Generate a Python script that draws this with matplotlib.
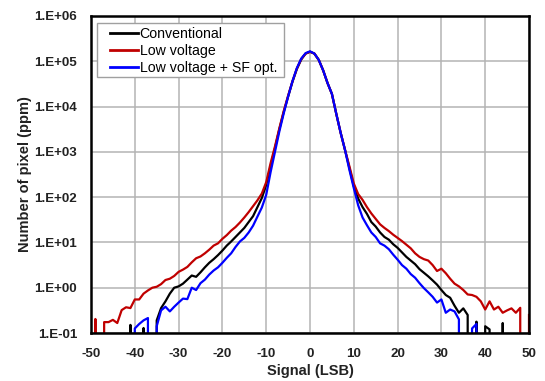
import numpy as np
import matplotlib
matplotlib.use("Agg")
import matplotlib.pyplot as plt
from matplotlib.ticker import FixedLocator, NullLocator
from matplotlib.patches import Rectangle

signal = list(range(-50, 51))

conventional = (
    [0] * 9 +
    [0.151, 0, 0, 0.129, 0, 0, 0.19, 0.355, 0.50, 0.74,
     1.0, 1.07, 1.23, 1.51, 1.86, 1.74, 2.19, 2.82, 3.55, 4.27,
     5.25, 6.61, 8.51, 10.5, 13.2, 16.6, 20.9, 28.2, 38.0, 60.3,
     95.5, 186, 479, 1202, 3162, 7586, 16600, 35480, 67600, 109600,
     147900, 162200, 147900, 107200, 63100, 33110, 19050, 6918, 2630, 1096,
     437, 174, 93.3, 60.3, 42.7, 28.2, 22.4, 16.6, 13.2, 11.5,
     9.12, 7.59, 6.03, 4.79, 3.98, 3.31, 2.57, 2.14, 1.78, 1.45,
     1.17, 0.89, 0.69, 0.60, 0.40, 0.28, 0.35, 0.25, 0, 0.178,
     0, 0.141, 0.12, 0, 0, 0.166] +
    [0] * 6
)

low_voltage = [
    0, 0.204, 0, 0.174, 0.174, 0.195, 0.166, 0.32, 0.37, 0.355,
    0.55, 0.55, 0.74, 0.87, 1.0, 1.05, 1.2, 1.48, 1.58, 1.82,
    2.24, 2.51, 2.88, 3.63, 4.47, 4.9, 5.75, 6.92, 8.51, 9.55,
    12.0, 14.5, 18.2, 21.9, 27.5, 35.5, 46.8, 63.1, 85.1, 120,
    214, 562, 1318, 3311, 7943, 17380, 36310, 69180, 112200, 147900,
    162200, 147900, 107200, 63100, 33110, 19050, 6918, 2630, 1096, 479,
    200, 117, 87, 60.3, 43.7, 33.1, 25.1, 20.9, 17.8, 14.8,
    12.6, 10.7, 8.91, 7.41, 5.75, 4.79, 4.27, 3.98, 3.16, 2.34,
    2.63, 2.09, 1.58, 1.23, 1.07, 0.89, 0.71, 0.69, 0.63, 0.50,
    0.33, 0.50, 0.33, 0.38, 0.28, 0.316, 0.35, 0.28, 0.36, 0,
    0.25,
]

low_voltage_sf = (
    [0] * 10 +
    [0.126, 0.158, 0.19, 0.214, 0, 0.141, 0.316, 0.38, 0.30, 0.38,
     0.47, 0.575, 0.56, 1.0, 0.89, 1.26, 1.51, 1.95, 2.4, 2.82,
     3.55, 4.57, 5.75, 7.94, 10.5, 12.6, 16.6, 23.4, 37.2, 58.9,
     112, 355, 1000, 2818, 7079, 16600, 36310, 70800, 114800, 151400,
     166000, 147900, 107200, 63100, 33110, 19050, 6918, 2630, 1096, 398,
     158, 66, 35.5, 24.0, 16.6, 13.2, 9.55, 8.5, 7.08, 5.37,
     4.17, 3.16, 2.63, 2.0, 1.66, 1.26, 0.98, 0.79, 0.63, 0.47,
     0.55, 0.28, 0.33, 0.30, 0.20, 0, 0, 0.126, 0.158] +
    [0] * 12
)

series_names = ["Conventional", "Low voltage", "Low voltage + SF opt."]
series_colors = ["#000000", "#c00000", "#0000ff"]

x_ticks = [-50, -40, -30, -20, -10, 0, 10, 20, 30, 40, 50]
y_ticks = [1e-1, 1e0, 1e1, 1e2, 1e3, 1e4, 1e5, 1e6]
y_tick_labels = ["1.E-01", "1.E+00", "1.E+01", "1.E+02", "1.E+03",
                 "1.E+04", "1.E+05", "1.E+06"]

plt.rcParams['font.family'] = ['Liberation Sans', 'DejaVu Sans']

fig = plt.figure(figsize=(5.45, 3.81), dpi=100)
ax = fig.add_axes([91 / 545, 1 - 333 / 381, 438 / 545, 317 / 381])

for vals, name, col in zip([conventional, low_voltage, low_voltage_sf],
                           series_names, series_colors):
    ax.plot(signal, vals, color=col, lw=1.6, label=name, clip_on=True)

ax.set_yscale('log', nonpositive='clip')
ax.set_xlim(-50, 50)
ax.set_ylim(1e-1, 1e6)
ax.xaxis.set_major_locator(FixedLocator(x_ticks))
ax.yaxis.set_major_locator(FixedLocator(y_ticks))
ax.yaxis.set_minor_locator(NullLocator())
ax.set_yticklabels(y_tick_labels)
ax.set_xticklabels([str(t) for t in x_ticks])
ax.tick_params(axis='both', length=0, labelsize=9.6, colors='#222222')
ax.tick_params(axis='y', pad=10)
ax.tick_params(axis='x', pad=11)
for lab in ax.get_xticklabels() + ax.get_yticklabels():
    lab.set_fontweight('bold')

ax.grid(True, color='#b4b4b4', lw=1.1)
ax.set_axisbelow(True)
for sp in ax.spines.values():
    sp.set_linewidth(1.8)
    sp.set_color('black')

ax.set_xlabel("Signal (LSB)", fontsize=10.5, fontweight='bold', color='#222222', labelpad=3)
ax.set_ylabel("Number of pixel (ppm)", fontsize=10.5, fontweight='bold', color='#222222', labelpad=2)

# legend frame drawn as a separate box (wide horizontal padding, tight vertical)
ax.add_patch(Rectangle((6 / 438, (333 - 77) / 317), (284 - 97) / 438, 54 / 317,
                       transform=ax.transAxes, facecolor='white',
                       edgecolor='#a0a0a0', lw=1.0, zorder=4))
leg = ax.legend(loc='upper left', bbox_to_anchor=((110 - 91) / 438, (333 - 27) / 317),
                borderaxespad=0, borderpad=0, fontsize=10.2, frameon=False,
                handlelength=1.95, handletextpad=0.15, labelspacing=0.22)
leg.set_zorder(5)
for line in leg.get_lines():
    line.set_linewidth(2.0)

fig.savefig("out.png", dpi=100)
